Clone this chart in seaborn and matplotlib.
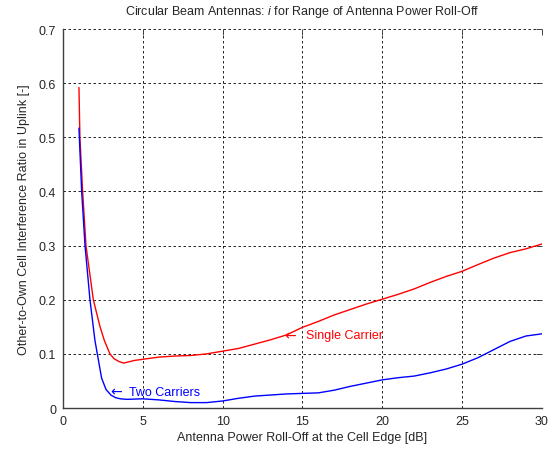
import matplotlib
matplotlib.use("Agg")
import matplotlib.pyplot as plt
import seaborn as sns
import pandas as pd

# Antenna power roll-off at the cell edge [dB] and the resulting
# other-to-own cell interference ratio for each carrier configuration
single_x = [1.0, 1.06, 1.23, 1.44, 1.9, 2.32, 2.6, 2.94, 3.2, 3.5, 3.8, 4.5, 5,
            6, 7, 8, 9, 10, 11, 12, 13, 14, 15, 16, 17, 18, 19, 20, 21, 22, 23,
            24, 25, 26, 27, 28, 29, 30]
single_y = [0.592, 0.5, 0.4, 0.3, 0.2, 0.15, 0.124, 0.1, 0.091, 0.086, 0.083,
            0.088, 0.09, 0.094, 0.096, 0.097, 0.1, 0.105, 0.11, 0.118, 0.126,
            0.135, 0.149, 0.16, 0.172, 0.182, 0.192, 0.201, 0.21, 0.22, 0.232,
            0.243, 0.2525, 0.265, 0.277, 0.287, 0.294, 0.303]

two_x = [1.0, 1.17, 1.38, 1.69, 2.0, 2.15, 2.42, 2.7, 3.0, 3.3, 3.6, 4, 5, 6, 7,
         8, 9, 10, 11, 12, 13, 14, 15, 16, 17, 18, 19, 20, 21, 22, 23, 24, 25,
         26, 27, 28, 29, 30]
two_y = [0.517, 0.4, 0.3, 0.2, 0.125, 0.1, 0.055, 0.034, 0.024, 0.019, 0.017,
         0.016, 0.017, 0.015, 0.012, 0.01, 0.01, 0.013, 0.018, 0.022, 0.024,
         0.026, 0.027, 0.028, 0.033, 0.04, 0.046, 0.052, 0.056, 0.059, 0.065,
         0.072, 0.081, 0.093, 0.108, 0.123, 0.133, 0.137]

x_ticks = [0, 5, 10, 15, 20, 25, 30]
y_ticks = [0, 0.1, 0.2, 0.3, 0.4, 0.5, 0.6, 0.7]
y_tick_labels = ["0", "0.1", "0.2", "0.3", "0.4", "0.5", "0.6", "0.7"]

sns.set_style("white")
plt.rcParams["font.family"] = ["Liberation Sans", "DejaVu Sans"]
plt.rcParams["mathtext.fontset"] = "custom"
plt.rcParams["mathtext.it"] = "Liberation Sans:italic"
plt.rcParams["mathtext.rm"] = "Liberation Sans"

fig = plt.figure(figsize=(5.53, 4.52), dpi=100)
ax = fig.add_axes([0.1139, 0.0951, 0.8661, 0.8385])

single = pd.DataFrame({"x": single_x, "y": single_y})
two = pd.DataFrame({"x": two_x, "y": two_y})
sns.lineplot(data=single, x="x", y="y", ax=ax, color="#ff0000", lw=1.0,
             estimator=None, sort=False)
sns.lineplot(data=two, x="x", y="y", ax=ax, color="#0000ff", lw=1.0,
             estimator=None, sort=False)

ax.set_xlim(0, 30)
ax.set_ylim(0, 0.7)
ax.set_xticks(x_ticks)
ax.set_xticklabels([str(t) for t in x_ticks])
ax.set_yticks(y_ticks)
ax.set_yticklabels(y_tick_labels)

ax.grid(True, color="black", linestyle=(0, (3, 3)), linewidth=0.6)
ax.set_axisbelow(True)
for side in ["top", "right"]:
    ax.spines[side].set_visible(False)
for side in ["left", "bottom"]:
    ax.spines[side].set_color("#404040")
    ax.spines[side].set_linewidth(1.0)

ax.tick_params(axis="both", which="both", direction="in", length=4,
               width=0.7, color="#404040", labelsize=9, top=True, right=True,
               pad=5)

ax.set_xlabel("Antenna Power Roll-Off at the Cell Edge [dB]", fontsize=9,
              labelpad=3)
ax.set_ylabel("Other-to-Own Cell Interference Ratio in Uplink [-]",
              fontsize=9, labelpad=6)
ax.set_title(r"Circular Beam Antennas: $\mathit{i}$ for Range of Antenna Power Roll-Off",
             fontsize=9, pad=11)

arrow_fonts = ["DejaVu Sans", "Liberation Sans"]
ax.text(13.85, 0.134, "\u2190", color="#ff0000", fontsize=10,
        va="center", ha="left", family=arrow_fonts)
ax.text(15.2, 0.134, "Single Carrier", color="#ff0000", fontsize=9,
        va="center", ha="left")
ax.text(2.94, 0.030, "\u2190", color="#0000ff", fontsize=10,
        va="center", ha="left", family=arrow_fonts)
ax.text(4.15, 0.030, "Two Carriers", color="#0000ff", fontsize=9,
        va="center", ha="left")

fig.savefig("out.png", dpi=100, facecolor="white")
